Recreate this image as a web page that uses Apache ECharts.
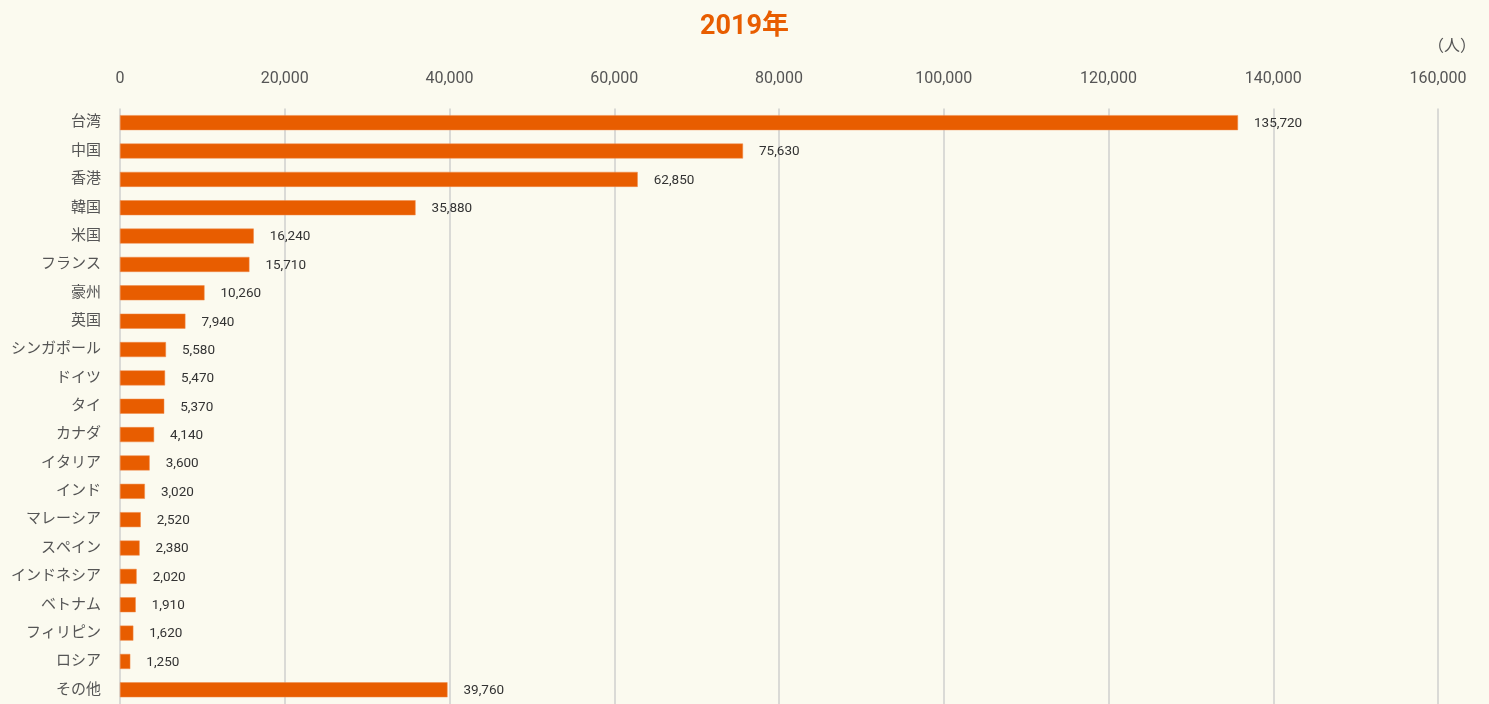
<!DOCTYPE html>
<html><head><meta charset="utf-8">
<script src="https://cdn.jsdelivr.net/npm/echarts@6/dist/echarts.min.js"></script>
<style>html,body{margin:0;padding:0;background:#FBFAEF;}#c{width:1489px;height:704px;}</style>
</head><body><div id="c"></div>
<script>
const categories = ['台湾','中国','香港','韓国','米国','フランス','豪州','英国','シンガポール','ドイツ','タイ','カナダ','イタリア','インド','マレーシア','スペイン','インドネシア','ベトナム','フィリピン','ロシア','その他'];
const values = [135720,75630,62850,35880,16240,15710,10260,7940,5580,5470,5370,4140,3600,3020,2520,2380,2020,1910,1620,1250,39760];
const titleText = '2019年';
const unitText = '（人）';

const chart = echarts.init(document.getElementById('c'));
const font = "Roboto, 'Noto Sans CJK JP', sans-serif";
chart.setOption({
  backgroundColor: '#FBFAEF',
  animation: false,
  title: [{
    text: titleText, left: 'center', top: 9,
    textStyle: {color: '#E85D00', fontSize: 27, fontWeight: 'bold', fontFamily: font}
  }, {
    text: unitText, right: 8, top: 34,
    textStyle: {color: '#555', fontSize: 16, fontWeight: 'normal', fontFamily: font}
  }],
  grid: {left: 120, right: 51, top: 108.5, bottom: -1, containLabel: false},
  xAxis: {
    type: 'value', position: 'top', min: 0, max: 160000, interval: 20000,
    axisLine: {show: false}, axisTick: {show: false},
    axisLabel: {color: '#555', fontSize: 16, fontFamily: font, margin: 21,
      formatter: v => v.toLocaleString('en-US')},
    splitLine: {show: true, lineStyle: {color: '#DADAD6', width: 2}}
  },
  yAxis: {
    type: 'category', data: categories, inverse: true,
    axisLine: {show: false}, axisTick: {show: false},
    axisLabel: {color: '#555', fontSize: 15, fontFamily: font, margin: 19}
  },
  series: [{
    type: 'bar', data: values, barWidth: 15,
    itemStyle: {color: '#E85D00', borderColor: '#F08A4A', borderWidth: 0.5},
    label: {show: true, position: 'right', distance: 16, color: '#333', fontSize: 13.5, fontFamily: font,
      offset: [0, 1],
      formatter: p => p.value.toLocaleString('en-US')}
  }]
});
</script></body></html>
